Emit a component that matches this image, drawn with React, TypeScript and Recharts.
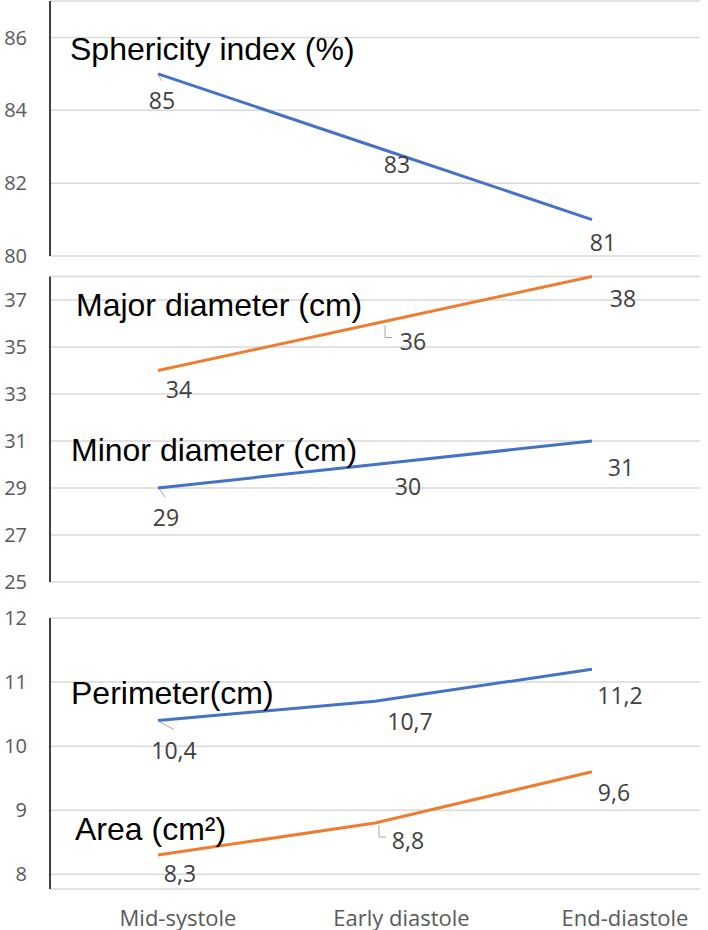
import React from 'react';
import { LineChart, Line, XAxis, YAxis, CartesianGrid, LabelList, ReferenceDot } from 'recharts';

// ---- data ----
const phases = ['Mid-systole', 'Early diastole', 'End-diastole'];
const sphericity = [85, 83, 81];
const majorDiameter = [34, 36, 38];
const minorDiameter = [29, 30, 31];
const perimeter = [10.4, 10.7, 11.2];
const area = [8.3, 8.8, 9.6];

const ticksTop = [80, 82, 84, 86];
const ticksMid = [25, 27, 29, 31, 33, 35, 37];
const ticksBottom = [8, 9, 10, 11, 12];

const data = phases.map((phase, i) => ({
  phase,
  sphericity: sphericity[i],
  major: majorDiameter[i],
  minor: minorDiameter[i],
  perimeter: perimeter[i],
  area: area[i],
}));

// ---- styles ----
const BLUE = '#4472C4';
const ORANGE = '#ED7D31';
const GRID = '#d9d9d9';
const TICK_STYLE = { fill: '#595959', fontSize: 20, fontFamily: '"Open Sans", sans-serif' };
const XTICK_STYLE = { fill: '#595959', fontSize: 22, fontFamily: '"Open Sans", sans-serif' };
const PAD = { left: 108, right: 108 };
const LABEL_PAD = { left: 128, right: 75 };

// label centre offsets relative to the point, and optional leader lines
const offSph = [[4, 26], [22, 17], [11, 22]];
const offMajor = [[21, 18], [38, 17], [31, 21]];
const offMinor = [[8, 29], [33, 21], [29, 26]];
const offPer = [[16, 29], [35, 20], [28, 26]];
const offArea = [[22, 18], [33, 17], [22, 20]];

const leadSph: (number[][] | null)[] = [[[0, 1], [4, 7]], null, null];
const leadMajor: (number[][] | null)[] = [null, [[10, 2], [10, 14], [17, 14]], null];
const leadMinor: (number[][] | null)[] = [[[2, 2], [7, 9]], null, null];
const leadPer: (number[][] | null)[] = [[[1, 1], [16, 9]], null, null];
const leadArea: (number[][] | null)[] = [null, [[4, 2], [4, 14], [11, 14]], null];

const fmt = (v: any) => String(v).replace('.', ',');

const makeLabel = (offs: number[][], leads: (number[][] | null)[]) => (props: any) => {
  const vb = props.viewBox || {};
  const x = props.x ?? vb.x;
  const y = props.y ?? vb.y;
  const i = props.index;
  if (x == null || y == null || i == null) return null;
  const [dx, dy] = offs[i];
  const lead = leads[i];
  return (
    <g>
      {lead && (
        <polyline
          points={lead.map(([a, b]) => `${x + a},${y + b}`).join(' ')}
          fill="none"
          stroke="#a6a6a6"
          strokeWidth={1}
        />
      )}
      <text
        x={x + dx}
        y={y + dy}
        textAnchor="middle"
        dominantBaseline="central"
        fill="#404040"
        fontSize={23}
        fontFamily='"Open Sans", sans-serif'
      >
        {fmt(props.value)}
      </text>
    </g>
  );
};

const TitleText = (props: any) => {
  const vb = props.viewBox || {};
  return (
    <text
      x={vb.x + 1 + props.dx}
      y={vb.y + 1}
      fill="#000"
      fontSize={32}
      fontFamily='"Liberation Sans", Arial, sans-serif'
      textAnchor="start"
    >
      {props.text}
    </text>
  );
};

const yAxisProps = {
  width: 50,
  tickLine: false,
  axisLine: { stroke: '#000', strokeWidth: 1.5 },
  tick: TICK_STYLE,
  tickMargin: 17,
  interval: 0 as const,
};

export default function App() {
  return (
    <div style={{ position: 'absolute', left: 0, top: 0, width: 708, height: 930, background: '#fff' }}>
      <style>{'svg.recharts-surface{overflow:visible}'}</style>
      <div style={{ position: 'absolute', left: 0, top: 0 }}>
        <LineChart width={708} height={262} data={data} margin={{ top: 1, right: 8, left: 0, bottom: 6 }}>
          <CartesianGrid vertical={false} stroke={GRID} strokeWidth={1.5} />
          <XAxis dataKey="phase" hide padding={PAD} />
          <YAxis {...yAxisProps} domain={[80, 87]} ticks={ticksTop} />
          <Line type="linear" dataKey="sphericity" stroke={BLUE} strokeWidth={3} dot={false} isAnimationActive={false}>
            <LabelList dataKey="sphericity" content={makeLabel(offSph, leadSph)} />
          </Line>
          <ReferenceDot x="Mid-systole" y={85.38} r={1} fill="none" stroke="none" ifOverflow="visible"
            label={<TitleText text="Sphericity index (%)" dx={-88} />} />
        </LineChart>
      </div>
      <div style={{ position: 'absolute', left: 0, top: 262 }}>
        <LineChart width={708} height={330} data={data} margin={{ top: 14.5, right: 8, left: 0, bottom: 10 }}>
          <CartesianGrid vertical={false} stroke={GRID} strokeWidth={1.5} />
          <XAxis dataKey="phase" hide padding={PAD} />
          <YAxis {...yAxisProps} domain={[25, 38]} ticks={ticksMid} />
          <Line type="linear" dataKey="major" stroke={ORANGE} strokeWidth={3} dot={false} isAnimationActive={false}>
            <LabelList dataKey="major" content={makeLabel(offMajor, leadMajor)} />
          </Line>
          <Line type="linear" dataKey="minor" stroke={BLUE} strokeWidth={3} dot={false} isAnimationActive={false}>
            <LabelList dataKey="minor" content={makeLabel(offMinor, leadMinor)} />
          </Line>
          <ReferenceDot x="Mid-systole" y={36.32} r={1} fill="none" stroke="none" ifOverflow="visible"
            label={<TitleText text="Major diameter (cm)" dx={-82} />} />
          <ReferenceDot x="Mid-systole" y={30.15} r={1} fill="none" stroke="none" ifOverflow="visible"
            label={<TitleText text="Minor diameter (cm)" dx={-87} />} />
        </LineChart>
      </div>
      <div style={{ position: 'absolute', left: 0, top: 592 }}>
        <LineChart width={708} height={338} data={data} margin={{ top: 26, right: 8, left: 0, bottom: 11 }}>
          <CartesianGrid vertical={false} stroke={GRID} strokeWidth={1.5} />
          <XAxis dataKey="phase" padding={LABEL_PAD} height={30} axisLine={false} tickLine={false}
            tick={XTICK_STYLE} tickMargin={15} interval={0} />
          <XAxis xAxisId="pts" dataKey="phase" hide padding={PAD} />
          <YAxis {...yAxisProps} domain={[7.77, 12]} ticks={ticksBottom} />
          <Line xAxisId="pts" type="linear" dataKey="perimeter" stroke={BLUE} strokeWidth={3} dot={false} isAnimationActive={false}>
            <LabelList dataKey="perimeter" content={makeLabel(offPer, leadPer)} />
          </Line>
          <Line xAxisId="pts" type="linear" dataKey="area" stroke={ORANGE} strokeWidth={3} dot={false} isAnimationActive={false}>
            <LabelList dataKey="area" content={makeLabel(offArea, leadArea)} />
          </Line>
          <ReferenceDot xAxisId="pts" x="Mid-systole" y={10.66} r={1} fill="none" stroke="none" ifOverflow="visible"
            label={<TitleText text="Perimeter(cm)" dx={-87} />} />
          <ReferenceDot xAxisId="pts" x="Mid-systole" y={8.53} r={1} fill="none" stroke="none" ifOverflow="visible"
            label={<TitleText text="Area (cm²)" dx={-83} />} />
        </LineChart>
      </div>
    </div>
  );
}
